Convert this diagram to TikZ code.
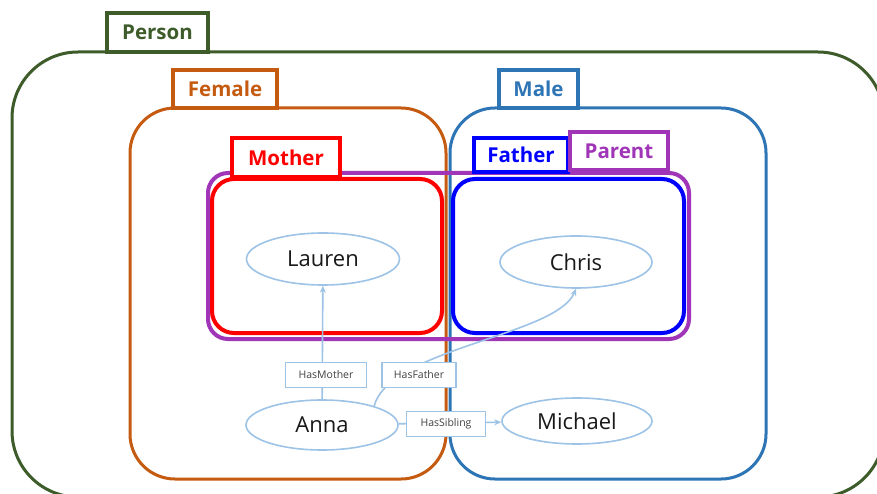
\documentclass[tikz,border=0pt]{standalone}
\usepackage{fontspec}
\setmainfont{Open Sans}
\usetikzlibrary{arrows.meta,shapes.geometric}

\definecolor{persongreen}{HTML}{3D5C2A}
\definecolor{femaleorange}{HTML}{C55A11}
\definecolor{maleblue}{HTML}{2E75B6}
\definecolor{parentpurple}{HTML}{A035B8}
\definecolor{motherred}{HTML}{FF0000}
\definecolor{fatherblue}{HTML}{0000FF}
\definecolor{linkblue}{HTML}{9DC3E6}

\tikzset{
  setbox/.style={draw=#1, line width=3pt, anchor=north west, inner sep=0pt, outer sep=0pt},
  tab/.style={draw=#1, text=#1, fill=white, line width=3.2pt, anchor=north west,
    inner sep=0pt, outer sep=0pt, font=\bfseries\fontsize{20.5}{22}\selectfont},
  individual/.style={ellipse, draw=linkblue, line width=1.6pt, fill=white, inner sep=0pt,
    font=\fontsize{22}{24}\selectfont, text=black!90},
  relation/.style={draw=linkblue, line width=1.4pt, fill=white, inner sep=0pt,
    minimum height=25pt, font=\fontsize{10.5}{12}\selectfont, text=black!75},
  link/.style={draw=linkblue, line width=1.6pt, -{Stealth[length=7pt,width=6pt]}},
}

\begin{document}
\begin{tikzpicture}[x=1pt,y=-1pt]
\clip (0,0) rectangle (877,494);
\fill[white] (0,0) rectangle (877,494);

% class regions
\node[setbox=persongreen, rounded corners=66pt, minimum width=872pt, minimum height=445pt] (person) at (12,52) {};
\node[setbox=femaleorange, rounded corners=45pt, minimum width=316pt, minimum height=371pt] (female) at (130,108) {};
\node[setbox=maleblue, rounded corners=45pt, minimum width=316pt, minimum height=371pt] (male) at (450,108) {};
\node[setbox=parentpurple, line width=4pt, rounded corners=20pt, minimum width=481pt, minimum height=166pt] (parent) at (208,173) {};
\node[setbox=motherred, line width=4pt, rounded corners=22pt, minimum width=230pt, minimum height=154pt] (mother) at (212,179) {};
\node[setbox=fatherblue, line width=4pt, rounded corners=22pt, minimum width=231pt, minimum height=154pt] (father) at (453,179) {};

% class name tabs
\node[tab=persongreen, minimum width=101pt, minimum height=39pt] (persontab) at (107,13) {Person};
\node[tab=femaleorange, minimum width=104pt, minimum height=38pt] (femaletab) at (173,70) {Female};
\node[tab=maleblue, minimum width=79pt, minimum height=38pt] (maletab) at (499,70) {Male};
\node[tab=motherred, minimum width=108pt, minimum height=39pt] (mothertab) at (232,138) {Mother};
\node[tab=fatherblue, minimum width=94pt, minimum height=34pt] (fathertab) at (474,138) {Father};
\node[tab=parentpurple, minimum width=98pt, minimum height=38pt] (parenttab) at (570,132) {Parent};

% individuals
\node[individual, minimum width=153pt, minimum height=52pt] (lauren) at (323,259) {Lauren};
\node[individual, minimum width=152pt, minimum height=52pt] (chris) at (576,262) {Chris};
\node[individual, minimum width=152pt, minimum height=50pt] (anna) at (322,425) {Anna};
\node[individual, minimum width=150pt, minimum height=46pt] (michael) at (577,421) {Michael};

% relations
\draw[link] (anna) -- (lauren);
\draw[link] (anna.20) .. controls (390,348) and (556,336) .. (chris.south);
\draw[link] (anna) -- (michael);

\node[relation, minimum width=81pt] (hasmother) at (326,375) {HasMother};
\node[relation, minimum width=74pt] (hasfather) at (419,375) {HasFather};
\node[relation, minimum width=79pt] (hassibling) at (446,424) {HasSibling};
\end{tikzpicture}
\end{document}
